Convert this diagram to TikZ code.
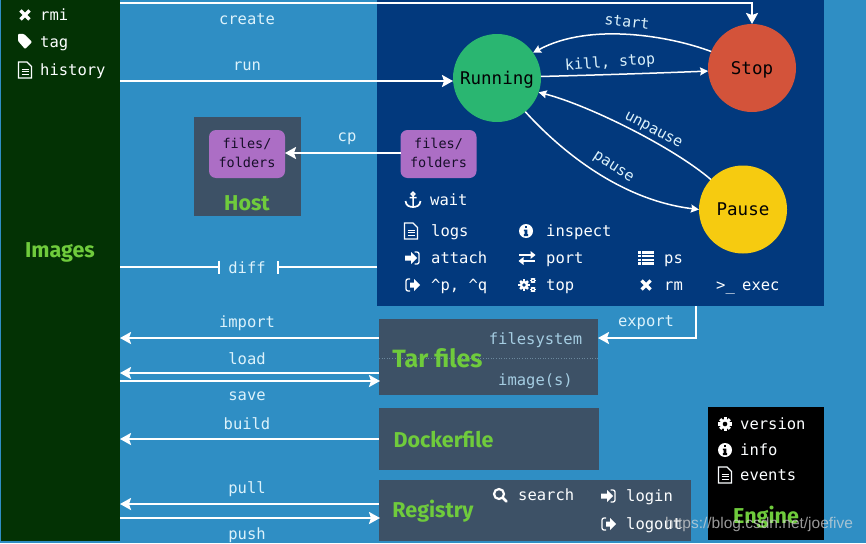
\documentclass[tikz,border=0pt]{standalone}
\usepackage{fontspec}
\setmainfont{DejaVu Sans Mono}
\newfontfamily\titlefont{Fira Sans}
\newfontfamily\markfont{Liberation Sans}
\usetikzlibrary{arrows.meta}
\definecolor{bgblue}{HTML}{2F8EC4}
\definecolor{imgpanel}{HTML}{033204}
\definecolor{contpanel}{HTML}{02397D}
\definecolor{slatebox}{HTML}{3D5166}
\definecolor{purplebox}{HTML}{AC6EC5}
\definecolor{runcol}{HTML}{2AB671}
\definecolor{stopcol}{HTML}{D3533A}
\definecolor{pausecol}{HTML}{F6CB10}
\definecolor{titlegreen}{HTML}{6FCB3C}
\definecolor{lbl}{HTML}{DCF2FB}
\definecolor{dimlbl}{HTML}{A5CDE2}
\definecolor{inkdark}{HTML}{170F2A}
\tikzset{
 x=1pt,y=-1pt,
 panel/.style={inner sep=0pt,outer sep=0pt,anchor=north west},
 circ/.style={circle,inner sep=0pt,outer sep=0pt,minimum size=88pt},
 circtext/.style={font=\fontsize{17.5}{18}\selectfont,text=black!90!inkdark,inner sep=0pt},
 title/.style={font=\titlefont\bfseries\fontsize{21.5}{24}\selectfont,text=titlegreen,inner sep=0pt},
 cmd/.style={font=\fontsize{15.5}{17}\selectfont,text=lbl,inner sep=0pt,anchor=mid west,yshift=-2.5pt},
 wcmd/.style={cmd,text=white!92!lbl},
 edge/.style={font=\fontsize{15.5}{17}\selectfont,text=lbl,inner sep=0pt,yshift=-1pt},
 curve/.style={font=\fontsize{15}{17}\selectfont,text=lbl,inner sep=0pt},
 files/.style={panel,fill=purplebox,rounded corners=7pt,minimum width=76pt,minimum height=48pt,anchor=center},
 filetext/.style={font=\fontsize{13.5}{19}\selectfont,text=inkdark,align=center,inner sep=0pt,yshift=1.5pt},
 mainarrow/.style={draw=white,line width=2.4pt,-{Stealth[length=11pt,width=12pt,inset=2pt]}},
 thinarrow/.style={draw=white,line width=1.5pt,-{Stealth[length=8pt,width=8pt,inset=1pt]}},
 bararrow/.style={draw=white,line width=2.4pt,-{Bar[width=13pt,line width=2pt]}},
 iconline/.style={draw=white!90!lbl,line width=1.2pt},
}
\newcommand{\icoCross}[2]{\draw[white,line width=3.2pt,shift={(#1,#2)}] (-4.5,-4.5)--(4.5,4.5) (-4.5,4.5)--(4.5,-4.5);}
\newcommand{\icoTag}[2]{\fill[white,shift={(#1,#2)},rounded corners=1pt] (-7,-7)--(-1,-7)--(7,1)--(0,8)--(-7,0)--cycle;}
\newcommand{\icoDoc}[2]{\begin{scope}[shift={(#1,#2)}]
 \draw[iconline] (-6.5,-8)--(2,-8)--(6.5,-3.5)--(6.5,8)--(-6.5,8)--cycle;
 \draw[white,line width=1pt] (-3.5,-1)--(3.5,-1) (-3.5,1.8)--(3.5,1.8) (-3.5,4.6)--(3.5,4.6);
 \end{scope}}
\newcommand{\icoInfo}[3]{\begin{scope}[shift={(#1,#2)}]
 \fill[white] (0,0) circle[radius=7];
 \fill[#3] (-1.3,-5)rectangle(1.3,-2.6);
 \fill[#3] (-2.2,-1.4)--(1.3,-1.4)--(1.3,3.2)--(2.2,3.2)--(2.2,5)--(-2.2,5)--(-2.2,3.2)--(-1.3,3.2)--(-1.3,.2)--(-2.2,.2)--cycle;
 \end{scope}}
\newcommand{\icoAnchor}[2]{\begin{scope}[shift={(#1,#2)}]
 \draw[white,line width=1.5pt] (0,-6)circle[radius=1.8] (0,-4)--(0,7) (-3.5,-2.5)--(3.5,-2.5);
 \draw[white,line width=1.7pt] (-7.5,1) .. controls (-7,6) and (-3,7) .. (0,7) .. controls (3,7) and (7,6) .. (7.5,1);
 \end{scope}}
\newcommand{\icoLogin}[2]{\begin{scope}[shift={(#1,#2)}]
 \fill[white] (-7,-2.5)--(-1,-2.5)--(-1,-6)--(5,0)--(-1,6)--(-1,2.5)--(-7,2.5)--cycle;
 \draw[white,line width=1.3pt,rounded corners=2pt] (2.5,-6)--(7,-6)--(7,6)--(2.5,6);
 \end{scope}}
\newcommand{\icoLogout}[2]{\begin{scope}[shift={(#1,#2)}]
 \fill[white] (-2,-2.5)--(2,-2.5)--(2,-6)--(8,0)--(2,6)--(2,2.5)--(-2,2.5)--cycle;
 \draw[white,line width=1.3pt,rounded corners=2pt] (-2,-6)--(-6,-6)--(-6,6)--(-2,6);
 \end{scope}}
\newcommand{\icoPort}[2]{\begin{scope}[shift={(#1,#2)}]
 \draw[white,line width=1.8pt] (-8,-3)--(5,-3) (-5,3)--(8,3);
 \fill[white] (3.5,-7)--(8.5,-3)--(3.5,1)--cycle (-3.5,-1)--(-8.5,3)--(-3.5,7)--cycle;
 \end{scope}}
\newcommand{\icoList}[2]{\begin{scope}[shift={(#1,#2)}]
 \foreach \r in {-5.5,-1.8,1.8,5.5}{\fill[white] (-8,\r-1.2) rectangle (-5.5,\r+1.2); \fill[white] (-4.5,\r-1.2) rectangle (8,\r+1.2);}
 \end{scope}}
\newcommand{\icoGear}[4]{\begin{scope}[shift={(#1,#2)}]
 \foreach \a in {0,45,...,315}{\draw[white,line width=#3*.55pt] (0,0)--(\a:#3*1.25);}
 \fill[white] (0,0) circle[radius=#3*.95];
 \fill[#4] (0,0) circle[radius=#3*.42];
 \end{scope}}
\newcommand{\icoSearch}[2]{\begin{scope}[shift={(#1,#2)}]
 \draw[white,line width=2.2pt] (-1,-1) circle[radius=5];
 \draw[white,line width=2.8pt,line cap=round] (2.8,2.8)--(6.5,6.5);
 \end{scope}}
\begin{document}
\begin{tikzpicture}
\useasboundingbox (0,0) rectangle (866,543);
\fill[bgblue] (0,0) rectangle (866,543);
% panels
\node[panel,fill=imgpanel,minimum width=119pt,minimum height=541pt] (images) at (1,0) {};
\node[panel,fill=contpanel,minimum width=447pt,minimum height=306pt] (container) at (377,0) {};
\node[panel,fill=slatebox,minimum width=107pt,minimum height=99pt] (host) at (194,117) {};
\node[panel,fill=slatebox,minimum width=219pt,minimum height=76pt] (tar) at (379,319) {};
\node[panel,fill=slatebox,minimum width=220pt,minimum height=62pt] (dockerfile) at (379,408) {};
\node[panel,fill=slatebox,minimum width=312pt,minimum height=61pt] (registry) at (379,480) {};
\node[panel,fill=black,minimum width=116pt,minimum height=133pt] (engine) at (708,407) {};
\draw[dimlbl,opacity=.45,line width=.6pt,dotted] (379,358)--(598,358);
% state circles
\node[circ,fill=runcol] (running) at (497,78) {};
\node[circ,fill=stopcol] (stop) at (752,68) {};
\node[circ,fill=pausecol] (pause) at (743,209.5) {};
\node[circtext] (trunning) at (497,80) {Running};
\node[circtext] (tstop) at (752,70) {Stop};
\node[circtext] (tpause) at (743,209.5) {Pause};
% files
\node[files] (hostfiles) at (247,154) {};
\node[files] (contfiles) at (438.5,154) {};
\node[filetext] (thostfiles) at (247,154) {files/\\folders};
\node[filetext] (tcontfiles) at (438.5,154) {files/\\folders};
% free ends
\coordinate (imgcreate) at (120,3);
\coordinate (imgrun) at (120,81);
\coordinate (imgimport) at (120,338);
\coordinate (tarimport) at (379,338);
\coordinate (imgload) at (120,373);
\coordinate (tarload) at (379,373);
\coordinate (imgsave) at (120,381);
\coordinate (tarsave) at (380,381);
\coordinate (imgbuild) at (120,439);
\coordinate (dockbuild) at (379,439);
\coordinate (imgpull) at (120,504);
\coordinate (regpull) at (379,504);
\coordinate (imgpush) at (120,518);
\coordinate (regpush) at (380,518);
\coordinate (diffl) at (220,267);
\coordinate (diffr) at (277,267);
\coordinate (contdiff) at (377,267);
\coordinate (imgdiff) at (120,267);
\coordinate (contexport) at (696,306);
\coordinate (tarexport) at (598,338);
\coordinate (runin) at (453,81);
% connectors
\draw[mainarrow] (imgcreate) -| (stop.north);
\draw[mainarrow] (imgrun) -- (runin);
\draw[mainarrow] (contfiles.west |- 0,153) -- (hostfiles.east |- 0,153);
\draw[bararrow] (imgdiff) -- (diffl);
\draw[bararrow] (contdiff) -- (diffr);
\draw[mainarrow] (tarimport) -- (imgimport);
\draw[mainarrow] (tarload) -- (imgload);
\draw[mainarrow] (imgsave) -- (tarsave);
\draw[mainarrow] (dockbuild) -- (imgbuild);
\draw[mainarrow] (regpull) -- (imgpull);
\draw[mainarrow] (imgpush) -- (regpush);
\draw[mainarrow] (contexport) |- (tarexport);
\draw[thinarrow] (stop.158) .. controls (670,36) and (590,22) .. (running.35);
\draw[thinarrow] (running.2) .. controls (600,75) and (660,73) .. (stop.184);
\draw[thinarrow] (pause.137) .. controls (673,147) and (588,105) .. (running.-19);
\draw[thinarrow] (running.-50) .. controls (560,150) and (620,200) .. (pause.west);
% edge labels
\node[edge] (lcreate) at (247,18) {create};
\node[edge] (lrun) at (247,65.5) {run};
\node[edge] (lcp) at (347,138) {cp};
\node[edge] (ldiff) at (247,267) {diff};
\node[edge] (limport) at (247,322) {import};
\node[edge] (lload) at (247,358) {load};
\node[edge] (lsave) at (247,395) {save};
\node[edge] (lbuild) at (247,423) {build};
\node[edge] (lpull) at (247,488) {pull};
\node[edge] (lpush) at (247,534) {push};
\node[edge] (lexport) at (646,322) {export};
\node[curve,rotate=-6] (lstart) at (627,22) {start};
\node[curve,rotate=4] (lkill) at (610,63) {kill, stop};
\node[curve,rotate=-28] (lunpause) at (653,131) {unpause};
\node[curve,rotate=-33] (lpause) at (613,168) {pause};
% titles
\node[title] (timages) at (60,252) {Images};
\node[title] (thost) at (247,203) {Host};
\node[title,font=\titlefont\bfseries\fontsize{25}{28}\selectfont] (ttar) at (437.5,358) {Tar files};
\node[title] (tdock) at (443.5,440) {Dockerfile};
\node[title] (treg) at (433,511) {Registry};
\node[title] (tengine) at (766,517) {Engine};
\node[edge,text=dimlbl] (tfs) at (535.5,339) {filesystem};
\node[edge,text=dimlbl] (timg) at (535.5,380) {image(s)};
% image commands
\icoCross{25}{15}\node[wcmd] (rmi) at (40,15) {rmi};
\icoTag{25}{41}\node[wcmd] (tag) at (40,42) {tag};
\icoDoc{25}{70}\node[wcmd] (history) at (40,70) {history};
% container commands
\icoAnchor{413}{200}\node[wcmd] (wait) at (430,200) {wait};
\icoDoc{411}{231}\node[wcmd] (logs) at (431,231) {logs};
\icoInfo{526}{231}{contpanel}\node[wcmd] (inspect) at (546,231) {inspect};
\icoLogin{412}{258}\node[wcmd] (attach) at (431,258) {attach};
\icoPort{527}{258}\node[wcmd] (port) at (546,258) {port};
\icoList{646}{258}\node[wcmd] (ps) at (664,258) {ps};
\icoLogout{412}{285}\node[wcmd] (detach) at (431,285) {\^{}p, \^{}q};
\icoGear{524}{285}{4.5}{contpanel}\icoGear{533}{280.5}{2.3}{contpanel}\icoGear{533}{289.5}{2.3}{contpanel}
\node[wcmd] (top) at (546,285) {top};
\icoCross{646}{285}\node[wcmd] (rm) at (664,285) {rm};
\node[wcmd] (prompt) at (716,285) {>\_};
\node[wcmd] (exec) at (742,285) {exec};
% engine
\icoGear{725}{424}{5.5}{black}\node[wcmd] (version) at (740,424) {version};
\icoInfo{725}{450}{black}\node[wcmd] (info) at (740,450) {info};
\icoDoc{725}{475}\node[wcmd] (events) at (740,475) {events};
% registry
\icoSearch{500}{495}\node[wcmd] (search) at (518,495) {search};
\icoLogin{608}{496}\node[wcmd] (login) at (626,496) {login};
\icoLogout{608}{524}\node[wcmd] (logout) at (626,524) {logout};
% watermark
\node[inner sep=0pt,anchor=west,opacity=.7,text=white!85!black,font=\markfont\fontsize{15.5}{17}\selectfont] (mark) at (665,524) {https://blog.csdn.net/joefive};
\end{tikzpicture}
\end{document}
